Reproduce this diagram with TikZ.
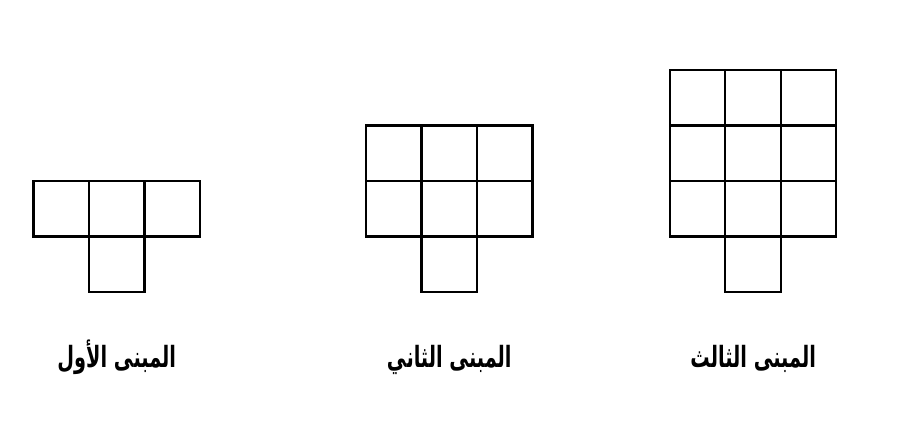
\documentclass[tikz,border=0pt]{standalone}
\usepackage{fontspec}
\newfontfamily\arabicfont[Script=Arabic, FakeStretch=0.66]{DejaVu Sans}
\TeXXeTstate=1
\begin{document}
\begin{tikzpicture}[x=1cm,y=1cm]
        \tikzstyle{cell} = [draw, line width=1.1pt, line join=miter]
        \tikzstyle{caption} = [font=\arabicfont\bfseries\fontsize{15}{17}\selectfont, anchor=base, inner sep=0pt]
        \useasboundingbox (0,0) rectangle (16.324,-7.604);

        % buildings: n rows of three cells above one cell
        \foreach \n/\x in {1/0.604, 2/6.595, 3/12.07} {
            \begin{scope}[shift={(\x,-4.26)}]
                \foreach \r in {1,...,\n}
                    \foreach \c in {0,1,2}
                        \draw [cell] (\c,\r-1) rectangle ++(1,1);
                \draw [cell] (1,0) rectangle (2,-1);
            \end{scope}
        }

        \node [caption] (first) at (2.104,-6.62) {\beginR المبنى الأول\endR};
        \node [caption] (second) at (8.095,-6.62) {\beginR المبنى الثاني\endR};
        \node [caption] (third) at (13.57,-6.62) {\beginR المبنى الثالث\endR};
\end{tikzpicture}
\end{document}
